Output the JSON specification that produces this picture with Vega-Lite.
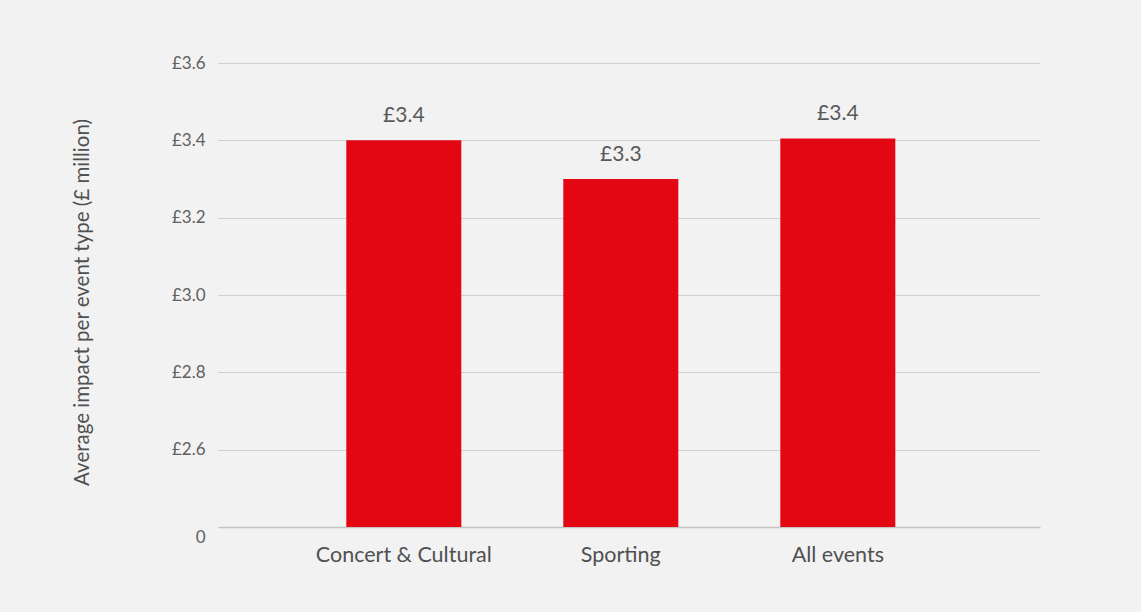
{
  "$schema": "https://vega.github.io/schema/vega-lite/v6.json",
  "autosize": "none",
  "width": 822,
  "height": 464,
  "padding": {"left": 218, "top": 63, "right": 101, "bottom": 85},
  "background": "#f2f2f2",
  "config": {
    "view": {"stroke": null},
    "font": "Lato"
  },
  "data": {
    "values": [
      {"event": "Concert & Cultural", "impact": 3.4},
      {"event": "Sporting", "impact": 3.3},
      {"event": "All events", "impact": 3.405}
    ]
  },
  "encoding": {
    "x": {
      "field": "event",
      "type": "nominal",
      "sort": null,
      "scale": {"paddingInner": 0.47, "paddingOuter": 0.629, "align": 0.47},
      "axis": {
        "title": null,
        "labelAngle": 0,
        "domain": false,
        "ticks": false,
        "labelFontSize": 21.5,
        "labelColor": "#505050",
        "labelPadding": 17
      }
    },
    "y": {
      "field": "impact",
      "type": "quantitative",
      "scale": {"domain": [2.4, 3.6], "zero": false, "nice": false},
      "axis": {
        "title": "Average impact per event type (£ million)",
        "titleFontSize": 20.5,
        "titleFontWeight": "normal",
        "titleColor": "#505050",
        "titlePadding": 79,
        "titleY": 239,
        "values": [2.4, 2.6, 2.8, 3.0, 3.2, 3.4, 3.6],
        "labelExpr": "abs(datum.value - 2.4) < 0.01 ? '0' : '£' + format(datum.value, '.1f')",
        "labelFontSize": 17,
        "labelColor": "#606060",
        "labelPadding": 13,
        "labelOffset": {"condition": {"test": "abs(datum.value - 2.4) < 0.01", "value": 10}, "value": 0},
        "domain": false,
        "ticks": false,
        "grid": true,
        "gridColor": {"condition": {"test": "abs(datum.value - 2.4) < 0.01", "value": "#c4c4c4"}, "value": "#d0d0d0"},
        "gridWidth": {"condition": {"test": "abs(datum.value - 2.4) < 0.01", "value": 1.5}, "value": 1}
      }
    }
  },
  "layer": [
    {
      "mark": {"type": "bar", "color": "#e30613"},
      "encoding": {"y2": {"datum": 2.4}}
    },
    {
      "mark": {
        "type": "text",
        "baseline": "bottom",
        "dy": -14,
        "fontSize": 21,
        "color": "#595959",
        "text": {"expr": "'£' + format(datum.impact, '.1f')"}
      },
      "encoding": {}
    }
  ]
}
